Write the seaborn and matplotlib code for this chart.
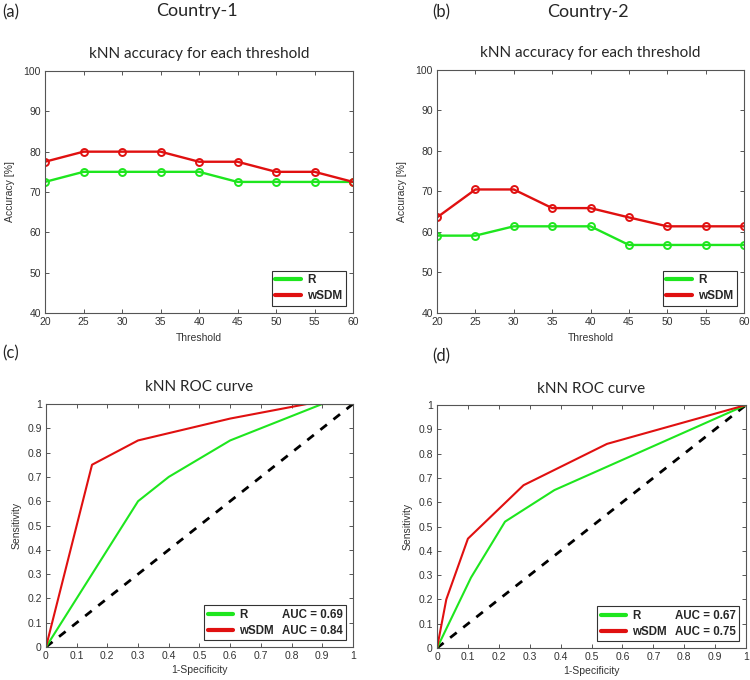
import numpy as np
import pandas as pd
import seaborn as sns
import matplotlib.pyplot as plt
from matplotlib.lines import Line2D

# accuracy vs threshold
thresholds = [20, 25, 30, 35, 40, 45, 50, 55, 60]
acc_r_c1 = [72.5, 75, 75, 75, 75, 72.5, 72.5, 72.5, 72.5]
acc_w_c1 = [77.5, 80, 80, 80, 77.5, 77.5, 75, 75, 72.5]
acc_r_c2 = [59.1, 59.1, 61.4, 61.4, 61.4, 56.8, 56.8, 56.8, 56.8]
acc_w_c2 = [63.6, 70.5, 70.5, 65.9, 65.9, 63.6, 61.4, 61.4, 61.4]

# ROC curves
roc_r_c1_x = [0, 0.3, 0.4, 0.6, 0.9, 1]
roc_r_c1_y = [0, 0.6, 0.7, 0.85, 1, 1]
roc_w_c1_x = [0, 0.15, 0.3, 0.4, 0.6, 0.85, 1]
roc_w_c1_y = [0, 0.75, 0.85, 0.88, 0.94, 1, 1]
roc_r_c2_x = [0, 0.11, 0.22, 0.38, 1]
roc_r_c2_y = [0, 0.29, 0.52, 0.65, 1]
roc_w_c2_x = [0, 0.03, 0.1, 0.28, 0.55, 1]
roc_w_c2_y = [0, 0.2, 0.45, 0.67, 0.84, 1]
diag = [0, 1]
auc_c1 = ['0.69', '0.84']
auc_c2 = ['0.67', '0.75']

GREEN = '#1ee61e'
RED = '#e01010'
TICKFONT = 'Liberation Sans'
TITLEFONT = 'Lato'

sns.set_style('white')
plt.rcParams['font.family'] = [TICKFONT, 'DejaVu Sans']

fig = plt.figure(figsize=(7.5, 6.8), dpi=100)
ax_a = fig.add_axes([0.060, 0.5397, 0.4107, 0.3559])
ax_b = fig.add_axes([0.5827, 0.5397, 0.4093, 0.3574])
ax_c = fig.add_axes([0.0613, 0.0485, 0.4093, 0.3574])
ax_d = fig.add_axes([0.5827, 0.0470, 0.4120, 0.3574])


def style_axes(ax):
    for s in ax.spines.values():
        s.set_color('#555555')
        s.set_linewidth(0.8)
    ax.tick_params(direction='in', length=3, width=0.7, color='#555555',
                   labelsize=7.5, labelcolor='#333333', top=True, right=True,
                   bottom=True, left=True, pad=3)
    for lab in ax.get_xticklabels() + ax.get_yticklabels():
        lab.set_family(TICKFONT)


def acc_panel(ax, r, w):
    sns.lineplot(x=thresholds, y=r, ax=ax, color=GREEN, lw=1.7, marker='o',
                 markersize=5, markerfacecolor='none', markeredgecolor=GREEN,
                 markeredgewidth=1.4)
    sns.lineplot(x=thresholds, y=w, ax=ax, color=RED, lw=1.7, marker='o',
                 markersize=5, markerfacecolor='none', markeredgecolor=RED,
                 markeredgewidth=1.4)
    ax.set_xlim(20, 60)
    ax.set_ylim(40, 100)
    ax.set_xticks(thresholds)
    ax.set_yticks(range(40, 101, 10))
    ax.set_title('kNN accuracy for each threshold', fontsize=11,
                 family=TITLEFONT, pad=9)
    ax.set_xlabel('Threshold', fontsize=7.5, color='#333333', labelpad=4)
    ax.set_ylabel('Accuracy [%]', fontsize=7.5, color='#333333', labelpad=6)
    handles = [Line2D([], [], color=GREEN, lw=3), Line2D([], [], color=RED, lw=3)]
    leg = ax.legend(handles, ['R', 'wSDM'], loc='lower right',
                    prop={'weight': 'bold', 'size': 8.5}, frameon=True,
                    fancybox=False, edgecolor='black', handlelength=2.2,
                    borderaxespad=0.6, borderpad=0.3, labelspacing=0.35,
                    handletextpad=0.5)
    leg.get_frame().set_linewidth(0.8)
    style_axes(ax)


def roc_panel(ax, rx, ry, wx, wy, auc):
    sns.lineplot(x=diag, y=diag, ax=ax, color='black', lw=2,
                 linestyle=(0, (3, 3)))
    sns.lineplot(x=rx, y=ry, ax=ax, color=GREEN, lw=1.5, sort=False,
                 estimator=None)
    sns.lineplot(x=wx, y=wy, ax=ax, color=RED, lw=1.5, sort=False,
                 estimator=None)
    ax.set_xlim(0, 1)
    ax.set_ylim(0, 1)
    ax.set_xticks(np.arange(0, 1.01, 0.1))
    ax.set_yticks(np.arange(0, 1.01, 0.1))
    fmt = lambda v, p: '0' if v == 0 else ('1' if v == 1 else f'{v:.1f}')
    ax.xaxis.set_major_formatter(plt.FuncFormatter(fmt))
    ax.yaxis.set_major_formatter(plt.FuncFormatter(fmt))
    ax.set_title('kNN ROC curve', fontsize=11, family=TITLEFONT, pad=9)
    ax.set_xlabel('1-Specificity', fontsize=7.5, color='#333333', labelpad=3)
    ax.set_ylabel('Sensitivity', fontsize=7.5, color='#333333', labelpad=4)
    blank = Line2D([], [], color='none')
    handles = [Line2D([], [], color=GREEN, lw=3), Line2D([], [], color=RED, lw=3),
               blank, blank]
    labels = ['R', 'wSDM', f'AUC = {auc[0]}', f'AUC = {auc[1]}']
    leg = ax.legend(handles, labels, loc='lower right', ncol=2,
                    prop={'weight': 'bold', 'size': 8.3}, frameon=True,
                    fancybox=False, edgecolor='black', handlelength=2.2,
                    borderaxespad=0.6, borderpad=0.3, labelspacing=0.35,
                    handletextpad=0.5, columnspacing=-2.0)
    leg.get_frame().set_linewidth(0.8)
    style_axes(ax)


acc_panel(ax_a, acc_r_c1, acc_w_c1)
acc_panel(ax_b, acc_r_c2, acc_w_c2)
roc_panel(ax_c, roc_r_c1_x, roc_r_c1_y, roc_w_c1_x, roc_w_c1_y, auc_c1)
roc_panel(ax_d, roc_r_c2_x, roc_r_c2_y, roc_w_c2_x, roc_w_c2_y, auc_c2)

# panel labels and headings
fig.text(2 / 750, 1 - 12 / 680, '(a)', fontsize=12, family=TITLEFONT, va='center')
fig.text(197 / 750, 1 - 11 / 680, 'Country-1', fontsize=13, family=TITLEFONT,
         ha='center', va='center')
fig.text(432 / 750, 1 - 12 / 680, '(b)', fontsize=12, family=TITLEFONT, va='center')
fig.text(588 / 750, 1 - 12 / 680, 'Country-2', fontsize=13, family=TITLEFONT,
         ha='center', va='center')
fig.text(2 / 750, 1 - 353 / 680, '(c)', fontsize=12, family=TITLEFONT, va='center')
fig.text(432 / 750, 1 - 356 / 680, '(d)', fontsize=12, family=TITLEFONT, va='center')

fig.savefig('out.png', dpi=100, facecolor='white')
